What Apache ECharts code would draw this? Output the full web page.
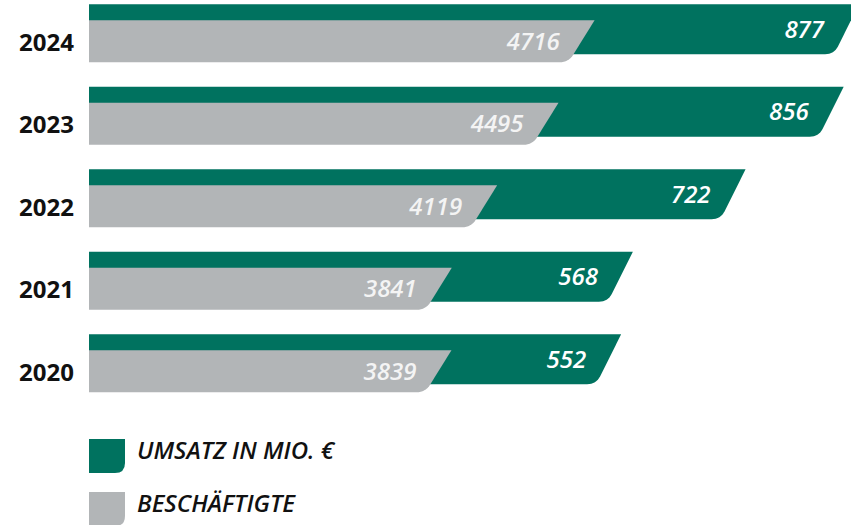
<!DOCTYPE html>
<html>
<head>
<meta charset="utf-8">
<script src="https://cdn.jsdelivr.net/npm/echarts@6/dist/echarts.min.js"></script>
<style>
html,body{margin:0;padding:0;background:#fff;}
#chart{width:851px;height:525px;}
</style>
</head>
<body>
<div id="chart"></div>
<script>
// ---- data ----
var years = ['2024', '2023', '2022', '2021', '2020'];
var umsatz = [877, 856, 722, 568, 552];          // Umsatz in Mio. €
var beschaeftigte = [4716, 4495, 4119, 3841, 3839]; // Beschäftigte
var seriesNames = ['UMSATZ IN MIO. €', 'BESCHÄFTIGTE'];

// ---- style ----
var GREEN = '#00725f';
var GRAY = '#b2b5b7';
var LABEL_FONT = 'italic 600 24px "Open Sans"';
// legend icon: 36x34 square with rounded bottom-right corner, placed in the lower part of a 36x48 box
var ICON = 'path://M0,-14M0,0L36,0L36,24Q36,34,26,34L0,34Z';

function quadPoints(p0, c, p1, n) {
  var pts = [];
  for (var i = 0; i <= n; i++) {
    var t = i / n;
    var a = (1 - t) * (1 - t), b = 2 * (1 - t) * t, d = t * t;
    pts.push([a * p0[0] + b * c[0] + d * p1[0], a * p0[1] + b * c[1] + d * p1[1]]);
  }
  return pts;
}

function slantShape(x0, xr, top, bot, slope, r) {
  var h = bot - top;
  var dx = slope * h;
  var corner = [xr - dx, bot];
  var L = Math.sqrt(dx * dx + h * h);
  var p1 = [corner[0] + dx * r / L, bot - h * r / L];
  var p2 = [corner[0] - r, bot];
  var pts = [[x0, top], [xr, top]];
  pts = pts.concat(quadPoints(p1, corner, p2, 8));
  pts.push([x0, bot]);
  return pts;
}

function makeRender(cfg) {
  return function (params, api) {
    var val = api.value(0);
    var idx = api.value(1);
    var p = api.coord([val, idx]);
    var x0 = params.coordSys.x;
    var cy = p[1];
    var top = cy + cfg.top, bot = cy + cfg.bot;
    var xr = p[0];
    return {
      type: 'group',
      children: [
        {
          type: 'polygon',
          shape: { points: slantShape(x0, xr, top, bot, cfg.slope, 9) },
          style: { fill: cfg.color }
        },
        {
          type: 'text',
          style: {
            text: String(val),
            x: xr - 35,
            y: cy + cfg.labelDy,
            align: 'right',
            verticalAlign: 'middle',
            fill: cfg.labelColor,
            font: LABEL_FONT
          }
        }
      ]
    };
  };
}

var legendText = {
  fontFamily: 'Open Sans',
  fontStyle: 'italic',
  fontWeight: 600,
  fontSize: 24,
  color: '#111111',
  padding: [0, 0, 0, 7]
};

var chart = echarts.init(document.getElementById('chart'), null, { renderer: 'svg' });

chart.setOption({
  animation: false,
  backgroundColor: '#ffffff',
  grid: { left: 89, right: 0, top: 0, bottom: 112.5, containLabel: false },
  xAxis: [
    { type: 'value', min: -175, max: 866, show: false },
    { type: 'value', min: 1618, max: 6287, show: false }
  ],
  yAxis: {
    type: 'category',
    data: years,
    inverse: true,
    axisLine: { show: false },
    axisTick: { show: false },
    splitLine: { show: false },
    axisLabel: {
      margin: 15,
      color: '#111111',
      fontFamily: 'Open Sans',
      fontWeight: 'bold',
      fontSize: 24
    }
  },
  legend: [
    {
      left: 89, top: 425, padding: 0,
      itemWidth: 36, itemHeight: 48,
      selectedMode: false,
      textStyle: legendText,
      data: [{ name: seriesNames[0], icon: ICON }]
    },
    {
      left: 89, top: 478, padding: 0,
      itemWidth: 36, itemHeight: 48,
      selectedMode: false,
      textStyle: legendText,
      data: [{ name: seriesNames[1], icon: ICON }]
    }
  ],
  series: [
    {
      name: seriesNames[0],
      type: 'custom',
      xAxisIndex: 0,
      itemStyle: { color: GREEN },
      encode: { x: 0, y: 1 },
      data: umsatz.map(function (v, i) { return [v, i]; }),
      renderItem: makeRender({ top: -37, bot: 13, slope: 0.5, color: GREEN, labelDy: -13, labelColor: '#ffffff' })
    },
    {
      name: seriesNames[1],
      type: 'custom',
      xAxisIndex: 1,
      itemStyle: { color: GRAY },
      encode: { x: 0, y: 1 },
      data: beschaeftigte.map(function (v, i) { return [v, i]; }),
      renderItem: makeRender({ top: -21, bot: 21, slope: 0.62, color: GRAY, labelDy: -1, labelColor: '#f4f4f4' })
    }
  ]
});
</script>
</body>
</html>
